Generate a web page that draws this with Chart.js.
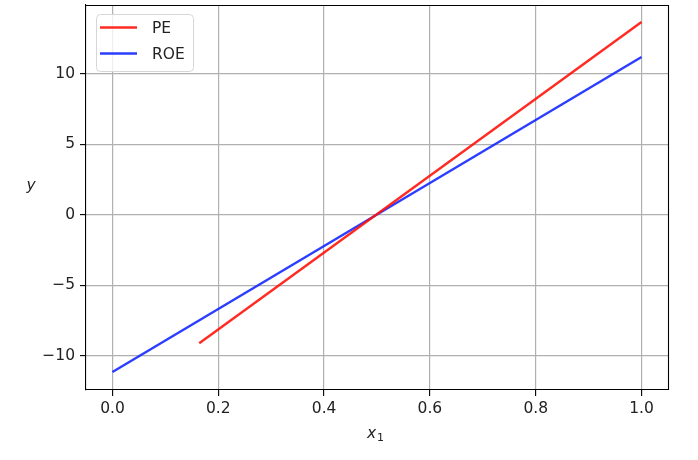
<!DOCTYPE html>
<html>
<head>
<meta charset="utf-8">
<script src="https://cdn.jsdelivr.net/npm/chart.js@4.4.1/dist/chart.umd.min.js"></script>
<style>
  html, body { margin: 0; padding: 0; background: #fff; }
  #wrap { width: 698px; height: 460px; }
</style>
</head>
<body>
<div id="wrap"><canvas id="chart"></canvas></div>
<script>
// data
const peX = [0.164, 1.0];
const peY = [-9.12, 13.65];
const roeX = [0.0, 1.0];
const roeY = [-11.15, 11.17];
const seriesNames = ['PE', 'ROE'];
const seriesColors = ['rgba(255,20,10,0.9)', 'rgba(20,40,255,0.9)'];
const xTicks = [0, 0.2, 0.4, 0.6, 0.8, 1.0];
const xTickLabels = ['0.0', '0.2', '0.4', '0.6', '0.8', '1.0'];
const yTicks = [-10, -5, 0, 5, 10];
const yTickLabels = ['\u221210', '\u22125', '0', '5', '10'];

const FONT = 'DejaVu Sans';
const FSIZE = 15.5;

function pts(xs, ys) {
    return xs.map((x, i) => ({ x: x, y: ys[i] }));
}

// top/right spines, axis labels and legend box
const extras = {
    id: 'extras',
    afterDraw(chart) {
        const ctx = chart.ctx;
        const a = chart.chartArea;
        ctx.save();
        ctx.strokeStyle = '#000';
        ctx.lineWidth = 1.1;
        ctx.beginPath();
        ctx.moveTo(a.left, a.top + 0.5);
        ctx.lineTo(a.right + 0.5, a.top + 0.5);
        ctx.lineTo(a.right + 0.5, a.bottom);
        ctx.stroke();

        ctx.fillStyle = '#222';
        ctx.font = 'italic ' + FSIZE + 'px ' + FONT;
        ctx.textAlign = 'center';
        ctx.textBaseline = 'middle';
        ctx.fillText('y', 31, 186);
        ctx.textAlign = 'left';
        ctx.fillText('x', 367, 434);
        ctx.font = '11px ' + FONT;
        ctx.fillText('1', 377, 438);

        // legend
        const lx = 96, ly = 14, lw = 97, lh = 57;
        ctx.fillStyle = 'rgba(255,255,255,0.8)';
        ctx.strokeStyle = '#d6d6d6';
        ctx.lineWidth = 1;
        ctx.beginPath();
        ctx.roundRect(lx + 0.5, ly + 0.5, lw, lh, 4);
        ctx.fill();
        ctx.stroke();
        ctx.font = FSIZE + 'px ' + FONT;
        ctx.textAlign = 'left';
        seriesNames.forEach((name, i) => {
            const yy = 27.5 + i * 26;
            ctx.strokeStyle = seriesColors[i];
            ctx.lineWidth = 2.4;
            ctx.beginPath();
            ctx.moveTo(100, yy);
            ctx.lineTo(137, yy);
            ctx.stroke();
            ctx.fillStyle = '#222';
            ctx.fillText(name, 152, yy + 1);
        });
        ctx.restore();
    }
};

new Chart(document.getElementById('chart'), {
    type: 'line',
    data: {
        datasets: [{
            label: seriesNames[0],
            data: pts(peX, peY),
            borderColor: seriesColors[0],
            borderWidth: 2.4,
            pointRadius: 0,
            fill: false
        }, {
            label: seriesNames[1],
            data: pts(roeX, roeY),
            borderColor: seriesColors[1],
            borderWidth: 2.4,
            pointRadius: 0,
            fill: false
        }]
    },
    options: {
        responsive: true,
        maintainAspectRatio: false,
        animation: false,
        layout: { padding: { left: 0, top: 5, right: 30, bottom: 0 } },
        plugins: {
            legend: { display: false },
            tooltip: { enabled: false }
        },
        scales: {
            x: {
                type: 'linear',
                min: -0.05,
                max: 1.05,
                afterBuildTicks: s => { s.ticks = xTicks.map(v => ({ value: v })); },
                afterFit: s => { s.height = 70; s.paddingLeft = 0; s.paddingRight = 0; },
                ticks: {
                    callback: (v) => xTickLabels[xTicks.indexOf(v)],
                    font: { family: FONT, size: FSIZE },
                    color: '#222',
                    padding: 4,
                    maxRotation: 0
                },
                grid: { color: '#b0b0b0', lineWidth: 1.2, tickColor: '#000', tickLength: 6, tickWidth: 1.1 },
                border: { display: true, color: '#000', width: 1.1 }
            },
            y: {
                type: 'linear',
                min: -12.43,
                max: 14.86,
                afterBuildTicks: s => { s.ticks = yTicks.map(v => ({ value: v })); },
                afterFit: s => { s.width = 86; s.paddingTop = 0; s.paddingBottom = 0; },
                ticks: {
                    callback: (v) => yTickLabels[yTicks.indexOf(v)],
                    font: { family: FONT, size: FSIZE },
                    color: '#222',
                    padding: 5
                },
                grid: { color: '#b0b0b0', lineWidth: 1.2, tickColor: '#000', tickLength: 6, tickWidth: 1.1 },
                border: { display: true, color: '#000', width: 1.1 }
            }
        }
    },
    plugins: [extras]
});
</script>
</body>
</html>
